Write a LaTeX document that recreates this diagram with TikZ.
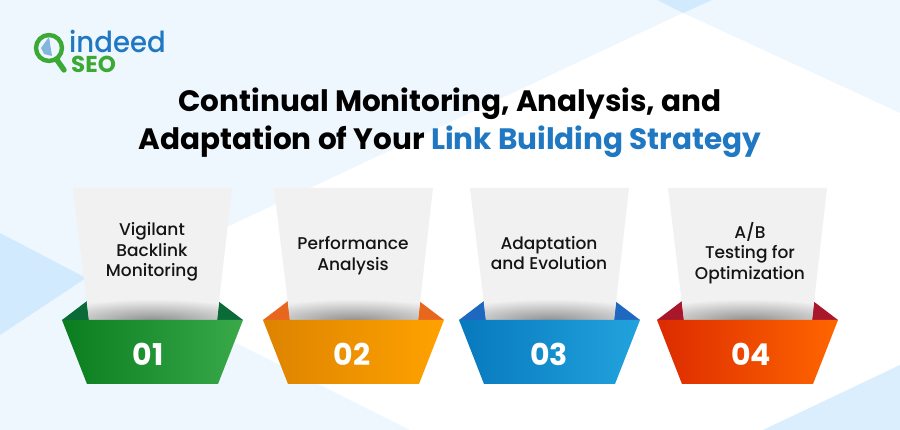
\documentclass[tikz,border=0pt]{standalone}
\usepackage{fontspec}
\setmainfont{Poppins}
\newfontfamily\medfont{Poppins}[UprightFont=* Medium,BoldFont=* SemiBold]
\definecolor{bgbase}{HTML}{EEF6FE}
\definecolor{bgblue}{HTML}{D2EAFE}
\definecolor{paper}{HTML}{F1F1F1}
\definecolor{titleblue}{HTML}{1F78C1}
\definecolor{logogreen}{HTML}{3DA935}
\definecolor{gb}{HTML}{0A6B38}\definecolor{gd}{HTML}{0A7D1E}\definecolor{gl}{HTML}{39A94A}
\definecolor{ob}{HTML}{E8671F}\definecolor{od}{HTML}{DD8300}\definecolor{ol}{HTML}{FFA200}
\definecolor{bb}{HTML}{1F68C0}\definecolor{bd}{HTML}{0779BD}\definecolor{bl}{HTML}{22A3DD}
\definecolor{rb}{HTML}{A8182A}\definecolor{rd}{HTML}{DC2B00}\definecolor{rl}{HTML}{FF6600}
\tikzset{
  x=1pt,y=-1pt,
  cardtext/.style={font=\medfont\fontsize{17}{20.6}\selectfont,align=center,text=black!92,inner sep=0pt},
  numtext/.style={font=\fontsize{30}{30}\selectfont\bfseries,text=white,inner sep=0pt},
  titletext/.style={font=\fontsize{29.5}{34}\selectfont\bfseries,text=black,inner sep=0pt,anchor=base},
}
% #1 left x, #2 back colour, #3 dark, #4 light, #5 text, #6 text centre x, #7 text centre y, #8 number, #9 number x
\newcommand{\cardgroup}[9]{%
  \begin{scope}[xshift=#1pt]
    \fill[#2] (0,320) -- (25,301) -- (156,301) -- (181,320) -- cycle;
    \fill[paper] (11,188) -- (170,188) -- (155,320) -- (27,320) -- cycle;
    \begin{scope}
      \clip (11,188) -- (170,188) -- (155,320) -- (27,320) -- cycle;
      \shade[inner color=black!45, outer color=paper] (90.5,321) ellipse (116 and 22);
    \end{scope}
    \shade[left color=#3, right color=#4] (0,320) -- (181,320) -- (156,384) -- (25,384) -- cycle;
  \end{scope}
  \node[cardtext] (text#8) at (#6,#7) {#5};
  \node[numtext] (num#8) at (#9,354) {#8};
}
\begin{document}
\begin{tikzpicture}
  \useasboundingbox (0,0) rectangle (900,430);
  % background
  \fill[bgbase] (0,0) rectangle (900,430);
  \fill[bgblue] (657,0) -- (683,13) -- (712,0) -- cycle;
  \fill[bgblue] (0,233) -- (86,278) -- (0,335) -- cycle;
  \fill[white] (683,13) -- (900,113) -- (900,430) -- (410,430) -- (112,281) -- cycle;
  \fill[bgblue!70!bgbase] (900,365) -- (900,430) -- (763,430) -- cycle;
  % logo
  \fill[titleblue!55!white] (41,48) -- (49,37) -- (52,56) -- (44,54) -- cycle;
  \draw[logogreen,line width=4.4pt] (49,48) circle (13);
  \draw[logogreen,line width=5.4pt,line cap=round] (57,60) -- (64,70);
  \node[inner sep=0pt,anchor=base west,text=titleblue,xscale=0.95,font=\medfont\fontsize{29}{29}\selectfont] (logoa) at (69,53) {indeed};
  \node[inner sep=0pt,anchor=base west,text=logogreen,font=\fontsize{23}{23}\selectfont\bfseries] (logob) at (71,72.5) {SEO};
  % title
  \node[titletext] (title1) at (450,112) {Continual Monitoring, Analysis, and};
  \node[titletext] (title2) at (450,150) {Adaptation of Your \textcolor{titleblue}{Link Building Strategy}};
  % cards
  \cardgroup{62}{gb}{gd}{gl}{Vigilant\\Backlink\\Monitoring}{152}{252}{01}{148}
  \cardgroup{263}{ob}{od}{ol}{Performance\\Analysis}{353}{255.5}{02}{352}
  \cardgroup{459}{bb}{bd}{bl}{Adaptation\\and Evolution}{549}{253}{03}{549}
  \cardgroup{657}{rb}{rd}{rl}{A/B\\Testing for\\Optimization}{750}{253}{04}{751}
\end{tikzpicture}
\end{document}
